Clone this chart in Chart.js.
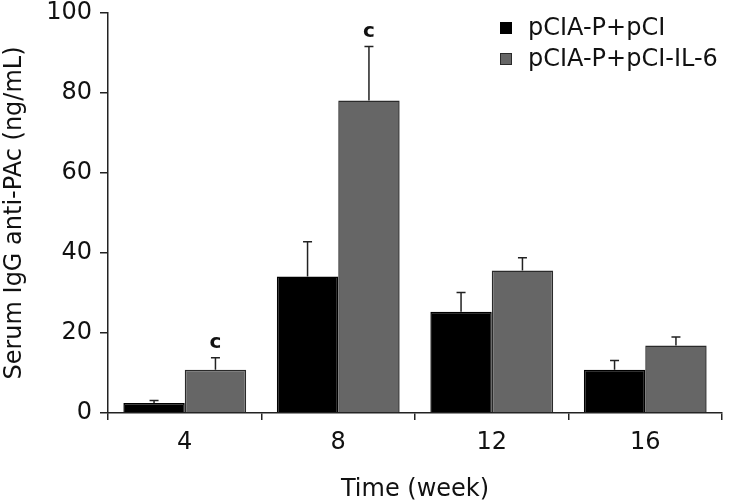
<!DOCTYPE html>
<html>
<head>
<meta charset="utf-8">
<script src="https://cdn.jsdelivr.net/npm/chart.js@4.4.1/dist/chart.umd.min.js"></script>
<style>
    html, body { margin: 0; padding: 0; background: #fff; }
    #wrap { width: 729px; height: 504px; }
</style>
</head>
<body>
<div id="wrap"><canvas id="grafico"></canvas></div>
<script>
// dados
const semanas = ['4', '8', '12', '16']
const pciMedias = [2.5, 34.1, 25.3, 10.8]
const pciErros = [0.6, 8.7, 4.8, 2.3]
const il6Medias = [10.8, 78.1, 35.6, 16.9]
const il6Erros = [3.0, 13.5, 3.2, 2.1]
const il6Marcas = ['c', 'c', '', '']
const yTicks = [0, 20, 40, 60, 80, 100]

const fonte = 'DejaVu Sans'
const corEixo = '#222'

// barras de erro (só para cima) e letras de significância
const errosPlugin = {
    id: 'erros',
    afterDatasetsDraw(chart) {
        const ctx = chart.ctx
        const y = chart.scales.y
        chart.data.datasets.forEach((ds, i) => {
            const meta = chart.getDatasetMeta(i)
            meta.data.forEach((bar, j) => {
                const topo = y.getPixelForValue(ds.data[j] + ds.erros[j])
                ctx.save()
                ctx.strokeStyle = corEixo
                ctx.lineWidth = 1.5
                ctx.beginPath()
                ctx.moveTo(bar.x, bar.y)
                ctx.lineTo(bar.x, topo)
                ctx.moveTo(bar.x - 4.5, topo)
                ctx.lineTo(bar.x + 4.5, topo)
                ctx.stroke()
                if (ds.marcas && ds.marcas[j]) {
                    ctx.fillStyle = '#111'
                    ctx.font = 'bold 20px ' + fonte
                    ctx.textAlign = 'center'
                    ctx.textBaseline = 'bottom'
                    ctx.fillText(ds.marcas[j], bar.x, topo - 5)
                }
                ctx.restore()
            })
        })
    }
}

// legenda desenhada à mão, no canto superior direito
const legendaPlugin = {
    id: 'legenda',
    afterDraw(chart) {
        const ctx = chart.ctx
        ctx.save()
        ctx.font = '24px ' + fonte
        ctx.textBaseline = 'middle'
        chart.data.datasets.forEach((ds, i) => {
            const cy = 28 + i * 31
            ctx.fillStyle = ds.backgroundColor
            ctx.fillRect(500, cy - 6, 12, 12)
            ctx.strokeStyle = ds.borderColor
            ctx.lineWidth = 1
            ctx.strokeRect(500.5, cy - 5.5, 11, 11)
            ctx.fillStyle = '#111'
            ctx.fillText(ds.label, 528, cy + 1)
        })
        ctx.restore()
    }
}

const ctx = document.querySelector('#grafico')
const chart = new Chart(ctx, {
    type: 'bar',
    data: {
        labels: semanas,
        datasets: [
            {
                label: 'pCIA-P+pCI',
                data: pciMedias,
                erros: pciErros,
                backgroundColor: '#000000',
                borderColor: '#000000',
                borderWidth: 1.5
            },
            {
                label: 'pCIA-P+pCI-IL-6',
                data: il6Medias,
                erros: il6Erros,
                marcas: il6Marcas,
                backgroundColor: '#666666',
                borderColor: '#2a2a2a',
                borderWidth: 1.5
            }
        ]
    },
    options: {
        responsive: true,
        maintainAspectRatio: false,
        animation: false,
        events: [],
        datasets: {
            bar: { categoryPercentage: 0.8, barPercentage: 1.0 }
        },
        layout: { padding: { top: 13, right: 7, left: 0, bottom: 0 } },
        plugins: {
            legend: { display: false },
            tooltip: { enabled: false }
        },
        scales: {
            x: {
                grid: { display: true, drawOnChartArea: false, offset: true, tickLength: 7, color: corEixo, lineWidth: 1.5 },
                border: { color: corEixo, width: 1.5 },
                ticks: { color: '#111', font: { family: fonte, size: 24 }, padding: 8 },
                title: { display: true, text: 'Time (week)', color: '#111', font: { family: fonte, size: 24 }, padding: { top: 0, bottom: 0 } },
                afterFit: (scale) => { scale.height = 91 }
            },
            y: {
                min: 0,
                max: 100,
                afterBuildTicks: (scale) => { scale.ticks = yTicks.map(v => ({ value: v })) },
                grid: { display: true, drawOnChartArea: false, tickLength: 8, color: corEixo, lineWidth: 1.5 },
                border: { color: corEixo, width: 1.5 },
                ticks: { color: '#111', font: { family: fonte, size: 24 }, padding: 8 },
                title: { display: true, text: 'Serum IgG anti-PAc (ng/mL)', color: '#111', font: { family: fonte, size: 24 }, padding: { top: 0, bottom: 0 } },
                afterFit: (scale) => {
                    scale.width = 108
                    scale.paddingTop = 0
                    scale.paddingBottom = 0
                }
            }
        }
    },
    plugins: [errosPlugin, legendaPlugin]
})
</script>
</body>
</html>
